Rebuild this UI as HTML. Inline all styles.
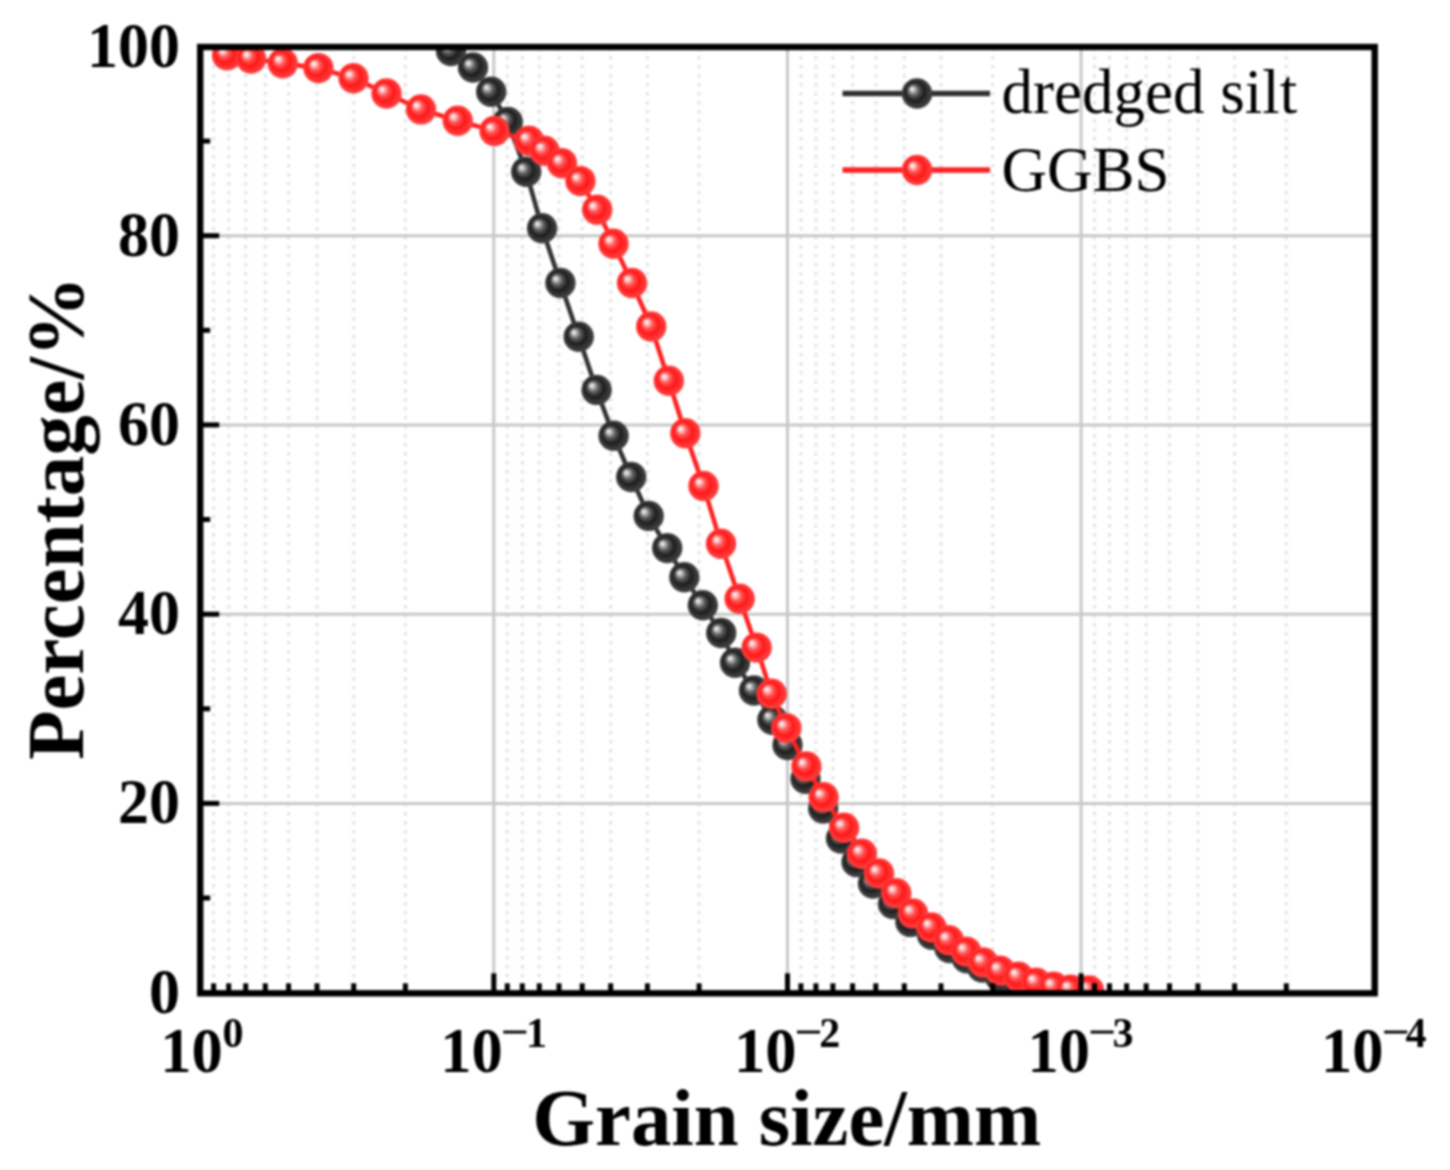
<!DOCTYPE html><html><head><meta charset="utf-8"><style>html,body{margin:0;padding:0;background:#fff;}svg{display:block;filter:blur(0.9px)}text{font-family:"Liberation Serif",serif}</style></head><body>
<svg width="1450" height="1170" viewBox="0 0 1450 1170">
<defs>
<radialGradient id="gr" cx="50%" cy="50%" r="50%" fx="32%" fy="34%"><stop offset="0" stop-color="#ffffff"/><stop offset="0.1" stop-color="#ffe4e4"/><stop offset="0.24" stop-color="#ff9999"/><stop offset="0.36" stop-color="#ff5252"/><stop offset="0.48" stop-color="#ff3838"/><stop offset="0.62" stop-color="#ff1616"/><stop offset="0.76" stop-color="#ff2c2c"/><stop offset="1" stop-color="#ff4040"/></radialGradient>
<radialGradient id="gb" cx="50%" cy="50%" r="50%" fx="32%" fy="34%"><stop offset="0" stop-color="#f2f2f2"/><stop offset="0.1" stop-color="#dcdcdc"/><stop offset="0.24" stop-color="#949494"/><stop offset="0.36" stop-color="#5a5a5a"/><stop offset="0.48" stop-color="#3e3e3e"/><stop offset="0.62" stop-color="#1c1c1c"/><stop offset="0.76" stop-color="#303030"/><stop offset="1" stop-color="#444444"/></radialGradient>
<clipPath id="pc"><rect x="200.2" y="47.0" width="1174.5" height="946.3"/></clipPath>
</defs>
<rect width="1450" height="1170" fill="#fff"/>
<g stroke="#e4e4e4" stroke-width="3" stroke-dasharray="3.5 5.5"><line x1="405.4" y1="47.0" x2="405.4" y2="993.3"/><line x1="353.7" y1="47.0" x2="353.7" y2="993.3"/><line x1="317.0" y1="47.0" x2="317.0" y2="993.3"/><line x1="288.6" y1="47.0" x2="288.6" y2="993.3"/><line x1="265.3" y1="47.0" x2="265.3" y2="993.3"/><line x1="245.7" y1="47.0" x2="245.7" y2="993.3"/><line x1="228.7" y1="47.0" x2="228.7" y2="993.3"/><line x1="213.6" y1="47.0" x2="213.6" y2="993.3"/><line x1="699.1" y1="47.0" x2="699.1" y2="993.3"/><line x1="647.4" y1="47.0" x2="647.4" y2="993.3"/><line x1="610.7" y1="47.0" x2="610.7" y2="993.3"/><line x1="582.2" y1="47.0" x2="582.2" y2="993.3"/><line x1="559.0" y1="47.0" x2="559.0" y2="993.3"/><line x1="539.3" y1="47.0" x2="539.3" y2="993.3"/><line x1="522.3" y1="47.0" x2="522.3" y2="993.3"/><line x1="507.3" y1="47.0" x2="507.3" y2="993.3"/><line x1="992.7" y1="47.0" x2="992.7" y2="993.3"/><line x1="941.0" y1="47.0" x2="941.0" y2="993.3"/><line x1="904.3" y1="47.0" x2="904.3" y2="993.3"/><line x1="875.8" y1="47.0" x2="875.8" y2="993.3"/><line x1="852.6" y1="47.0" x2="852.6" y2="993.3"/><line x1="832.9" y1="47.0" x2="832.9" y2="993.3"/><line x1="815.9" y1="47.0" x2="815.9" y2="993.3"/><line x1="800.9" y1="47.0" x2="800.9" y2="993.3"/><line x1="1286.3" y1="47.0" x2="1286.3" y2="993.3"/><line x1="1234.6" y1="47.0" x2="1234.6" y2="993.3"/><line x1="1197.9" y1="47.0" x2="1197.9" y2="993.3"/><line x1="1169.5" y1="47.0" x2="1169.5" y2="993.3"/><line x1="1146.2" y1="47.0" x2="1146.2" y2="993.3"/><line x1="1126.6" y1="47.0" x2="1126.6" y2="993.3"/><line x1="1109.5" y1="47.0" x2="1109.5" y2="993.3"/><line x1="1094.5" y1="47.0" x2="1094.5" y2="993.3"/></g>
<g stroke="#c8c8c8" stroke-width="3"><line x1="493.8" y1="47.0" x2="493.8" y2="993.3"/><line x1="787.5" y1="47.0" x2="787.5" y2="993.3"/><line x1="1081.1" y1="47.0" x2="1081.1" y2="993.3"/><line x1="200.2" y1="803.4" x2="1374.7" y2="803.4"/><line x1="200.2" y1="614.2" x2="1374.7" y2="614.2"/><line x1="200.2" y1="424.9" x2="1374.7" y2="424.9"/><line x1="200.2" y1="235.7" x2="1374.7" y2="235.7"/></g>
<g clip-path="url(#pc)"><polyline fill="none" stroke="#333333" stroke-width="4.6" stroke-linejoin="round" points="451.0,51.0 473.0,67.5 491.2,91.8 507.8,122.0 526.2,171.8 542.1,228.2 560.4,283.0 578.7,336.7 596.6,389.9 613.6,435.8 631.2,477.0 648.7,515.9 667.2,548.1 684.3,577.2 702.8,605.3 721.2,633.0 735.0,662.7 754.0,690.5 772.4,719.7 787.5,745.0 805.5,778.7 823.2,808.5 841.0,838.5 856.5,862.0 873.0,883.5 893.0,904.0 910.4,921.9 932.0,934.7 949.4,948.0 966.8,958.3 982.2,967.5 1000.0,977.0 1018.0,984.0 1035.0,989.0"/><circle cx="451.0" cy="51.0" r="15.2" fill="url(#gb)"/><circle cx="473.0" cy="67.5" r="15.2" fill="url(#gb)"/><circle cx="491.2" cy="91.8" r="15.2" fill="url(#gb)"/><circle cx="507.8" cy="122.0" r="15.2" fill="url(#gb)"/><circle cx="526.2" cy="171.8" r="15.2" fill="url(#gb)"/><circle cx="542.1" cy="228.2" r="15.2" fill="url(#gb)"/><circle cx="560.4" cy="283.0" r="15.2" fill="url(#gb)"/><circle cx="578.7" cy="336.7" r="15.2" fill="url(#gb)"/><circle cx="596.6" cy="389.9" r="15.2" fill="url(#gb)"/><circle cx="613.6" cy="435.8" r="15.2" fill="url(#gb)"/><circle cx="631.2" cy="477.0" r="15.2" fill="url(#gb)"/><circle cx="648.7" cy="515.9" r="15.2" fill="url(#gb)"/><circle cx="667.2" cy="548.1" r="15.2" fill="url(#gb)"/><circle cx="684.3" cy="577.2" r="15.2" fill="url(#gb)"/><circle cx="702.8" cy="605.3" r="15.2" fill="url(#gb)"/><circle cx="721.2" cy="633.0" r="15.2" fill="url(#gb)"/><circle cx="735.0" cy="662.7" r="15.2" fill="url(#gb)"/><circle cx="754.0" cy="690.5" r="15.2" fill="url(#gb)"/><circle cx="772.4" cy="719.7" r="15.2" fill="url(#gb)"/><circle cx="787.5" cy="745.0" r="15.2" fill="url(#gb)"/><circle cx="805.5" cy="778.7" r="15.2" fill="url(#gb)"/><circle cx="823.2" cy="808.5" r="15.2" fill="url(#gb)"/><circle cx="841.0" cy="838.5" r="15.2" fill="url(#gb)"/><circle cx="856.5" cy="862.0" r="15.2" fill="url(#gb)"/><circle cx="873.0" cy="883.5" r="15.2" fill="url(#gb)"/><circle cx="893.0" cy="904.0" r="15.2" fill="url(#gb)"/><circle cx="910.4" cy="921.9" r="15.2" fill="url(#gb)"/><circle cx="932.0" cy="934.7" r="15.2" fill="url(#gb)"/><circle cx="949.4" cy="948.0" r="15.2" fill="url(#gb)"/><circle cx="966.8" cy="958.3" r="15.2" fill="url(#gb)"/><circle cx="982.2" cy="967.5" r="15.2" fill="url(#gb)"/><circle cx="1000.0" cy="977.0" r="15.2" fill="url(#gb)"/><circle cx="1018.0" cy="984.0" r="15.2" fill="url(#gb)"/><circle cx="1035.0" cy="989.0" r="15.2" fill="url(#gb)"/><polyline fill="none" stroke="#ff2020" stroke-width="4.6" stroke-linejoin="round" points="227.0,55.2 251.0,58.6 282.8,63.2 318.4,68.1 353.5,78.2 386.5,93.5 421.0,109.4 457.7,120.7 494.5,130.9 529.0,140.8 544.5,150.8 562.0,163.3 580.4,181.1 597.2,209.7 613.5,243.8 632.0,283.0 651.2,326.5 668.8,380.8 685.3,433.2 703.5,486.0 721.0,543.7 739.6,598.8 756.6,647.6 771.6,693.7 786.3,728.1 806.4,766.4 823.6,797.2 844.1,827.7 861.9,853.8 879.0,873.5 896.3,893.2 913.0,913.4 931.5,927.5 948.8,940.3 966.2,951.6 983.2,962.4 1000.1,970.6 1018.5,976.7 1036.2,982.7 1053.8,986.8 1070.7,989.6 1089.0,990.5"/><circle cx="227.0" cy="55.2" r="15.2" fill="url(#gr)"/><circle cx="251.0" cy="58.6" r="15.2" fill="url(#gr)"/><circle cx="282.8" cy="63.2" r="15.2" fill="url(#gr)"/><circle cx="318.4" cy="68.1" r="15.2" fill="url(#gr)"/><circle cx="353.5" cy="78.2" r="15.2" fill="url(#gr)"/><circle cx="386.5" cy="93.5" r="15.2" fill="url(#gr)"/><circle cx="421.0" cy="109.4" r="15.2" fill="url(#gr)"/><circle cx="457.7" cy="120.7" r="15.2" fill="url(#gr)"/><circle cx="494.5" cy="130.9" r="15.2" fill="url(#gr)"/><circle cx="529.0" cy="140.8" r="15.2" fill="url(#gr)"/><circle cx="544.5" cy="150.8" r="15.2" fill="url(#gr)"/><circle cx="562.0" cy="163.3" r="15.2" fill="url(#gr)"/><circle cx="580.4" cy="181.1" r="15.2" fill="url(#gr)"/><circle cx="597.2" cy="209.7" r="15.2" fill="url(#gr)"/><circle cx="613.5" cy="243.8" r="15.2" fill="url(#gr)"/><circle cx="632.0" cy="283.0" r="15.2" fill="url(#gr)"/><circle cx="651.2" cy="326.5" r="15.2" fill="url(#gr)"/><circle cx="668.8" cy="380.8" r="15.2" fill="url(#gr)"/><circle cx="685.3" cy="433.2" r="15.2" fill="url(#gr)"/><circle cx="703.5" cy="486.0" r="15.2" fill="url(#gr)"/><circle cx="721.0" cy="543.7" r="15.2" fill="url(#gr)"/><circle cx="739.6" cy="598.8" r="15.2" fill="url(#gr)"/><circle cx="756.6" cy="647.6" r="15.2" fill="url(#gr)"/><circle cx="771.6" cy="693.7" r="15.2" fill="url(#gr)"/><circle cx="786.3" cy="728.1" r="15.2" fill="url(#gr)"/><circle cx="806.4" cy="766.4" r="15.2" fill="url(#gr)"/><circle cx="823.6" cy="797.2" r="15.2" fill="url(#gr)"/><circle cx="844.1" cy="827.7" r="15.2" fill="url(#gr)"/><circle cx="861.9" cy="853.8" r="15.2" fill="url(#gr)"/><circle cx="879.0" cy="873.5" r="15.2" fill="url(#gr)"/><circle cx="896.3" cy="893.2" r="15.2" fill="url(#gr)"/><circle cx="913.0" cy="913.4" r="15.2" fill="url(#gr)"/><circle cx="931.5" cy="927.5" r="15.2" fill="url(#gr)"/><circle cx="948.8" cy="940.3" r="15.2" fill="url(#gr)"/><circle cx="966.2" cy="951.6" r="15.2" fill="url(#gr)"/><circle cx="983.2" cy="962.4" r="15.2" fill="url(#gr)"/><circle cx="1000.1" cy="970.6" r="15.2" fill="url(#gr)"/><circle cx="1018.5" cy="976.7" r="15.2" fill="url(#gr)"/><circle cx="1036.2" cy="982.7" r="15.2" fill="url(#gr)"/><circle cx="1053.8" cy="986.8" r="15.2" fill="url(#gr)"/><circle cx="1070.7" cy="989.6" r="15.2" fill="url(#gr)"/><circle cx="1089.0" cy="990.5" r="15.2" fill="url(#gr)"/></g>
<rect x="200.2" y="47.0" width="1174.5" height="946.3" fill="none" stroke="#000" stroke-width="6.4"/>
<g stroke="#000" stroke-width="5"><line x1="200.2" y1="992.6" x2="219.2" y2="992.6"/><line x1="200.2" y1="898.0" x2="210.2" y2="898.0"/><line x1="200.2" y1="803.4" x2="219.2" y2="803.4"/><line x1="200.2" y1="708.8" x2="210.2" y2="708.8"/><line x1="200.2" y1="614.2" x2="219.2" y2="614.2"/><line x1="200.2" y1="519.5" x2="210.2" y2="519.5"/><line x1="200.2" y1="424.9" x2="219.2" y2="424.9"/><line x1="200.2" y1="330.3" x2="210.2" y2="330.3"/><line x1="200.2" y1="235.7" x2="219.2" y2="235.7"/><line x1="200.2" y1="141.1" x2="210.2" y2="141.1"/><line x1="200.2" y1="46.5" x2="219.2" y2="46.5"/><line x1="200.2" y1="993.3" x2="200.2" y2="973.3"/><line x1="405.4" y1="993.3" x2="405.4" y2="983.3"/><line x1="353.7" y1="993.3" x2="353.7" y2="983.3"/><line x1="317.0" y1="993.3" x2="317.0" y2="983.3"/><line x1="288.6" y1="993.3" x2="288.6" y2="983.3"/><line x1="265.3" y1="993.3" x2="265.3" y2="983.3"/><line x1="245.7" y1="993.3" x2="245.7" y2="983.3"/><line x1="228.7" y1="993.3" x2="228.7" y2="983.3"/><line x1="213.6" y1="993.3" x2="213.6" y2="983.3"/><line x1="493.8" y1="993.3" x2="493.8" y2="973.3"/><line x1="699.1" y1="993.3" x2="699.1" y2="983.3"/><line x1="647.4" y1="993.3" x2="647.4" y2="983.3"/><line x1="610.7" y1="993.3" x2="610.7" y2="983.3"/><line x1="582.2" y1="993.3" x2="582.2" y2="983.3"/><line x1="559.0" y1="993.3" x2="559.0" y2="983.3"/><line x1="539.3" y1="993.3" x2="539.3" y2="983.3"/><line x1="522.3" y1="993.3" x2="522.3" y2="983.3"/><line x1="507.3" y1="993.3" x2="507.3" y2="983.3"/><line x1="787.5" y1="993.3" x2="787.5" y2="973.3"/><line x1="992.7" y1="993.3" x2="992.7" y2="983.3"/><line x1="941.0" y1="993.3" x2="941.0" y2="983.3"/><line x1="904.3" y1="993.3" x2="904.3" y2="983.3"/><line x1="875.8" y1="993.3" x2="875.8" y2="983.3"/><line x1="852.6" y1="993.3" x2="852.6" y2="983.3"/><line x1="832.9" y1="993.3" x2="832.9" y2="983.3"/><line x1="815.9" y1="993.3" x2="815.9" y2="983.3"/><line x1="800.9" y1="993.3" x2="800.9" y2="983.3"/><line x1="1081.1" y1="993.3" x2="1081.1" y2="973.3"/><line x1="1286.3" y1="993.3" x2="1286.3" y2="983.3"/><line x1="1234.6" y1="993.3" x2="1234.6" y2="983.3"/><line x1="1197.9" y1="993.3" x2="1197.9" y2="983.3"/><line x1="1169.5" y1="993.3" x2="1169.5" y2="983.3"/><line x1="1146.2" y1="993.3" x2="1146.2" y2="983.3"/><line x1="1126.6" y1="993.3" x2="1126.6" y2="983.3"/><line x1="1109.5" y1="993.3" x2="1109.5" y2="983.3"/><line x1="1094.5" y1="993.3" x2="1094.5" y2="983.3"/><line x1="1374.7" y1="993.3" x2="1374.7" y2="973.3"/></g>
<text transform="translate(180,1012.6) scale(1,1.035)" font-weight="bold" font-size="62" text-anchor="end">0</text>
<text transform="translate(180,823.4) scale(1,1.035)" font-weight="bold" font-size="62" text-anchor="end">20</text>
<text transform="translate(180,634.2) scale(1,1.035)" font-weight="bold" font-size="62" text-anchor="end">40</text>
<text transform="translate(180,444.9) scale(1,1.035)" font-weight="bold" font-size="62" text-anchor="end">60</text>
<text transform="translate(180,255.7) scale(1,1.035)" font-weight="bold" font-size="62" text-anchor="end">80</text>
<text transform="translate(180,66.5) scale(1,1.035)" font-weight="bold" font-size="62" text-anchor="end">100</text>
<text transform="translate(160.2,1071.8) scale(1,1.01)" font-weight="bold" font-size="62.5">10</text>
<text x="222.4" y="1047" font-weight="bold" font-size="42">0</text>
<text transform="translate(440.2,1071.8) scale(1,1.01)" font-weight="bold" font-size="62.5">10</text>
<rect x="503.3" y="1030.6" width="23" height="2.9" fill="#000"/>
<text x="547.0" y="1047" font-weight="bold" font-size="42" text-anchor="end">1</text>
<text transform="translate(733.9,1071.8) scale(1,1.01)" font-weight="bold" font-size="62.5">10</text>
<rect x="797.0" y="1030.6" width="23" height="2.9" fill="#000"/>
<text x="840.3" y="1047" font-weight="bold" font-size="42" text-anchor="end">2</text>
<text transform="translate(1027.5,1071.8) scale(1,1.01)" font-weight="bold" font-size="62.5">10</text>
<rect x="1090.6" y="1030.6" width="23" height="2.9" fill="#000"/>
<text x="1133.5" y="1047" font-weight="bold" font-size="42" text-anchor="end">3</text>
<text transform="translate(1321.1,1071.8) scale(1,1.01)" font-weight="bold" font-size="62.5">10</text>
<rect x="1384.2" y="1030.6" width="23" height="2.9" fill="#000"/>
<text x="1426.5" y="1047" font-weight="bold" font-size="42" text-anchor="end">4</text>
<text transform="translate(532.3,1144.5) scale(1.009,1)" font-weight="bold" font-size="80">Grain size/mm</text>
<text transform="translate(82.8,760) rotate(-90) scale(1.012,1)" font-weight="bold" font-size="80">Percentage/%</text>
<line x1="842.5" y1="93.5" x2="990" y2="93.5" stroke="#303030" stroke-width="5.6"/>
<circle cx="917" cy="93.5" r="15.2" fill="url(#gb)"/>
<line x1="842.5" y1="170" x2="990" y2="170" stroke="#ff2020" stroke-width="5.6"/>
<circle cx="917" cy="170" r="15.2" fill="url(#gr)"/>
<text x="1001.5" y="113" font-size="63">dredged silt</text>
<text x="1001.5" y="190.7" font-size="63">GGBS</text>
</svg></body></html>
